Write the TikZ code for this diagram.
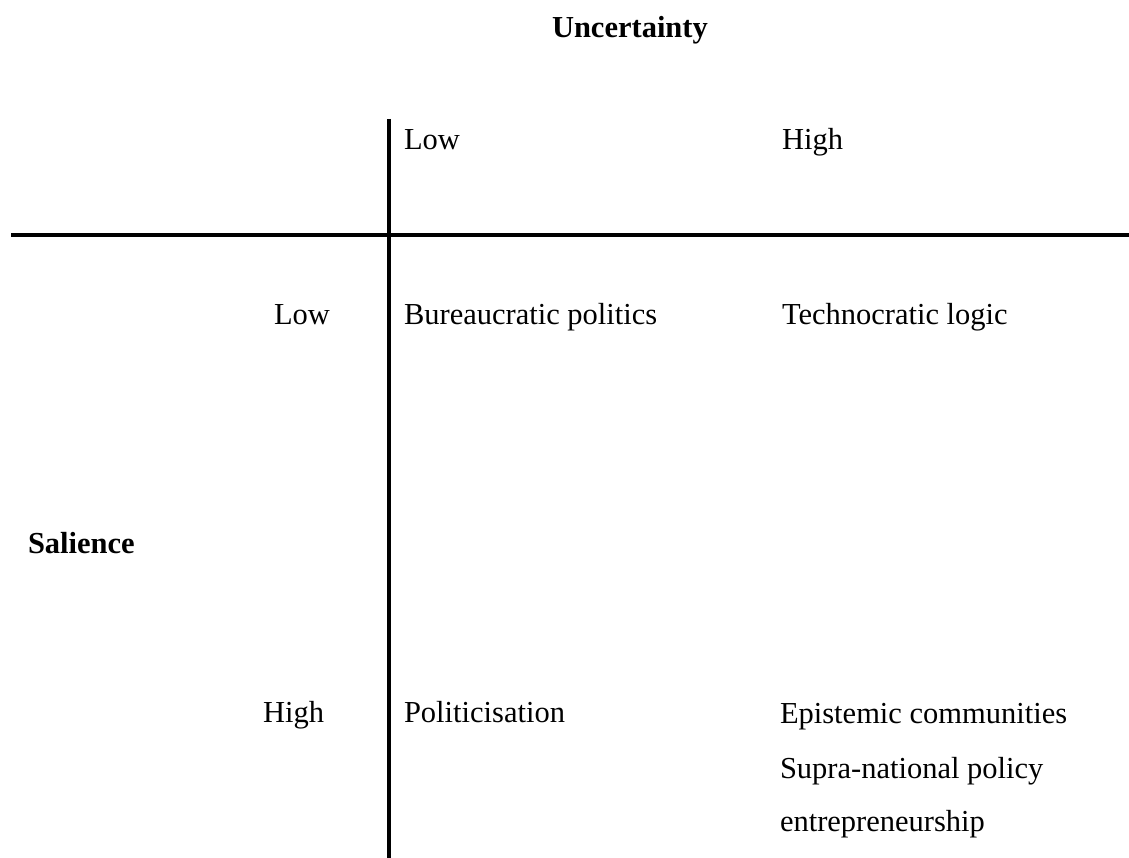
\documentclass[tikz,border=0pt]{standalone}
\usepackage{fontspec}
\setmainfont{Liberation Serif}
\begin{document}
\begin{tikzpicture}[x=1pt,y=-1pt,
  lbl/.style={inner sep=0pt,outer sep=0pt,font=\fontsize{30.5}{36}\selectfont},
  ttl/.style={lbl,font=\fontsize{30.5}{36}\selectfont\bfseries},
  axis/.style={line width=3.6pt,black}]
\useasboundingbox[fill=white] (0,0) rectangle (1129,858);
% axes
\coordinate (vtop) at (389,119);
\coordinate (vbot) at (389,858);
\coordinate (hl) at (11,235);
\coordinate (hr) at (1129,235);
\draw[axis] (vtop) -- (vbot);
\draw[axis] (hl) -- (hr);
% titles
\node[ttl,anchor=base west] (unc) at (552,38) {Uncertainty};
\node[ttl,anchor=base west] (sal) at (28,553) {Salience};
% column headers
\node[lbl,anchor=base west] (ulow) at (404,150) {Low};
\node[lbl,anchor=base west] (uhigh) at (782,150) {High};
% row headers
\node[lbl,anchor=base east] (slow) at (330,325) {Low};
\node[lbl,anchor=base east] (shigh) at (324,722) {High};
% cells
\node[lbl,anchor=base west] (bp) at (404,325) {Bureaucratic politics};
\node[lbl,anchor=base west] (tl) at (782,325) {Technocratic logic};
\node[lbl,anchor=base west] (pol) at (404,722) {Politicisation};
\node[lbl,anchor=base west] (ec1) at (780,723) {Epistemic communities};
\node[lbl,anchor=base west] (ec2) at (780,778) {Supra-national policy};
\node[lbl,anchor=base west] (ec3) at (780,831) {entrepreneurship};
\end{tikzpicture}
\end{document}
